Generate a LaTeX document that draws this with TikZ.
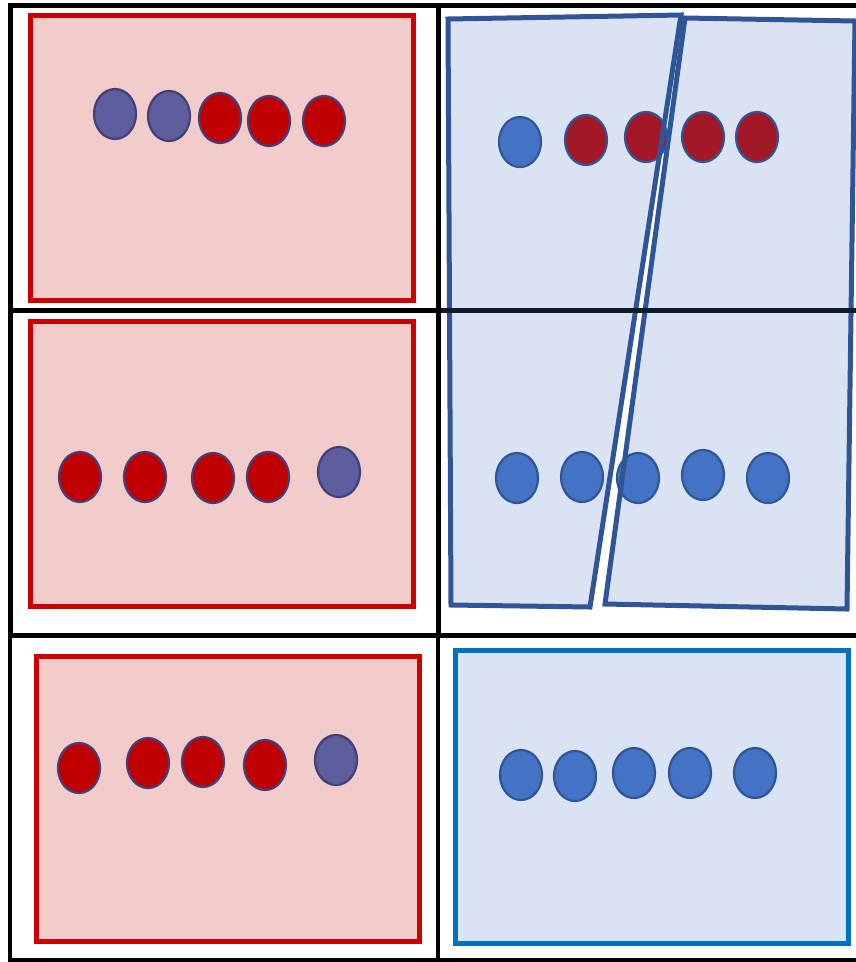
\documentclass[tikz,border=0pt]{standalone}
\usepackage{tikz}
\usetikzlibrary{calc}
\usepackage{xcolor}
\definecolor{boxRed}{HTML}{CC0000}
\definecolor{boxPink}{HTML}{F2CBCB}
\definecolor{beadRed}{HTML}{C00000}
\definecolor{beadWine}{HTML}{A31826}
\definecolor{beadPurple}{HTML}{5E5E9E}
\definecolor{beadRim}{HTML}{433F78}
\definecolor{paleBlue}{HTML}{DAE3F3}
\definecolor{shardBlue}{HTML}{2F5597}
\definecolor{beadBlue}{HTML}{4472C4}
\definecolor{boxBlue}{HTML}{0070C0}
\definecolor{gridNavy}{HTML}{0F1A2B}

\tikzset{
    redbox/.style={draw=boxRed, fill=boxPink, line width=5pt},
    bluebox/.style={draw=boxBlue, fill=paleBlue, line width=5pt},
    shardfill/.style={fill=paleBlue},
    shardedge/.style={draw=shardBlue, line width=5pt, line join=miter},
    redbead/.style={fill=beadRed, draw=beadRim, line width=2.2pt},
    purplebead/.style={fill=beadPurple, draw=beadRim, line width=2.2pt},
    winebead/.style={fill=beadWine, draw=shardBlue, line width=2.2pt},
    bluebead/.style={fill=beadBlue, draw=shardBlue, line width=2.2pt},
    gridline/.style={draw=black, line width=5pt}
}

\begin{document}
\begin{tikzpicture}[x=1pt, y=-1pt]
    \useasboundingbox (0,0) rectangle (856,962);
    % left column boxes
    \draw[redbox] (30,15) rectangle (413,300);
    \draw[redbox] (30,321) rectangle (413,606);
    \draw[redbox] (36,656) rectangle (419,941);
    % bottom right box
    \draw[bluebox] (455,650) rectangle (848,943);
    % the two tilted shards
    \coordinate (sLa) at (448,19);
    \coordinate (sLb) at (681,15);
    \coordinate (sLc) at (590,607);
    \coordinate (sLd) at (451,605);
    \coordinate (sRa) at (685,18);
    \coordinate (sRb) at (855,21);
    \coordinate (sRc) at (847,609);
    \coordinate (sRd) at (605,604);
    \fill[shardfill] (sLa) -- (sLb) -- (sLc) -- (sLd) -- cycle;
    \fill[shardfill] (sRa) -- (sRb) -- (sRc) -- (sRd) -- cycle;
    % beads
    \foreach \x/\y in {115/114,169/116}
        \draw[purplebead] (\x,\y) ellipse (21pt and 25pt);
    \foreach \x/\y in {220/118,269/121,324/121}
        \draw[redbead] (\x,\y) ellipse (21pt and 25pt);
    \foreach \x/\y in {80/477,145/477,213/478,268/477}
        \draw[redbead] (\x,\y) ellipse (21pt and 25pt);
    \draw[purplebead] (339,472) ellipse (21pt and 25pt);
    \foreach \x/\y in {79/768,148/763,203/762,265/765}
        \draw[redbead] (\x,\y) ellipse (21pt and 25pt);
    \draw[purplebead] (336,760) ellipse (21pt and 25pt);
    \draw[bluebead] (520,142) ellipse (21pt and 25pt);
    \foreach \x/\y in {586/140,646/137,703/137,757/137}
        \draw[winebead] (\x,\y) ellipse (21pt and 25pt);
    \foreach \x/\y in {517/478,582/477,638/478,703/475,768/478}
        \draw[bluebead] (\x,\y) ellipse (21pt and 25pt);
    \foreach \x/\y in {521/775,575/776,634/773,690/773,755/773}
        \draw[bluebead] (\x,\y) ellipse (21pt and 25pt);
    % shard outlines on top
    \draw[shardedge] (sLa) -- (sLb) -- (sLc) -- (sLd) -- cycle;
    \draw[shardedge] (sRa) -- (sRb) -- (sRc) -- (sRd) -- cycle;
    % frame
    \draw[gridline] (8,5) -- (856,5);
    \draw[gridline] (8,310) -- (438,310);
    \draw[gridline, draw=gridNavy] (438,310) -- (856,310);
    \draw[gridline] (8,635) -- (856,635);
    \draw[gridline, line width=3.5pt] (8,960) -- (856,960);
    \draw[gridline] (10,3) -- (10,635);
    \draw[gridline, line width=4pt] (10,635) -- (10,962);
    \draw[gridline] (438,3) -- (438,635);
    \draw[gridline, line width=4pt] (438,635) -- (438,962);
\end{tikzpicture}
\end{document}
